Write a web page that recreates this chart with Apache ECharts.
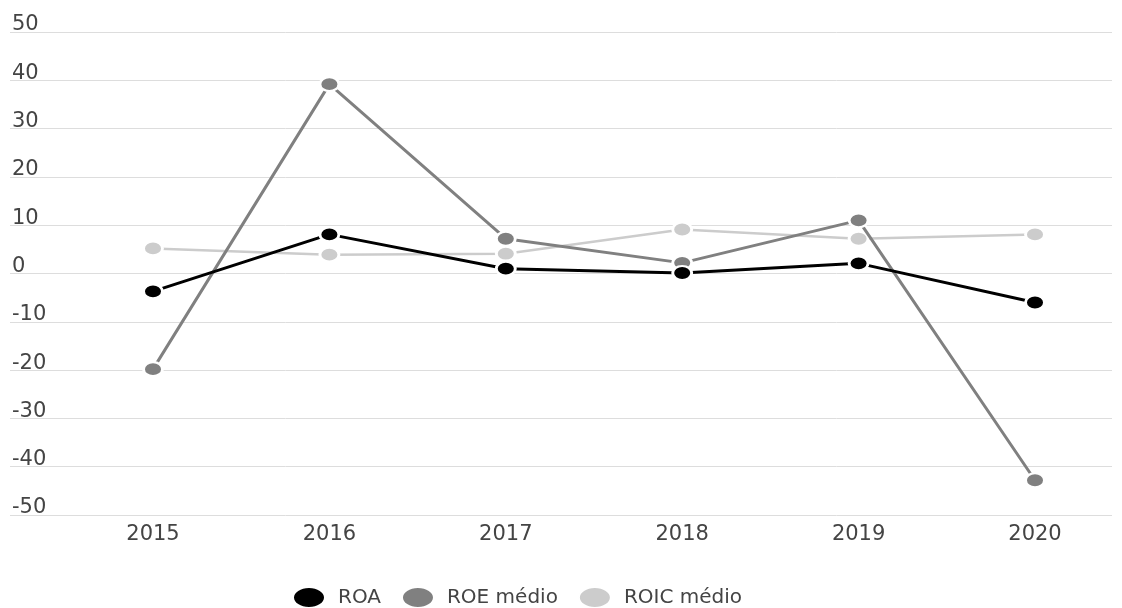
<!DOCTYPE html>
<html>
<head>
<meta charset="utf-8">
<script src="https://cdn.jsdelivr.net/npm/echarts@6/dist/echarts.min.js"></script>
<style>html,body{margin:0;padding:0;background:#fff;}#c{width:1122px;height:608px;}</style>
</head>
<body>
<div id="c"></div>
<script>
const years = ['2015', '2016', '2017', '2018', '2019', '2020'];
const roa = [-3.7, 8.1, 1.0, 0.1, 2.1, -6.0];
const roeMedio = [-19.8, 39.2, 7.2, 2.2, 11.0, -42.8];
const roicMedio = [5.2, 3.9, 4.1, 9.1, 7.2, 8.1];
const seriesNames = ['ROA', 'ROE médio', 'ROIC médio'];
const seriesColors = ['#000000', '#808080', '#cccccc'];
const seriesData = [roa, roeMedio, roicMedio];

const chart = echarts.init(document.getElementById('c'), null, {renderer: 'canvas'});
const ellipse = 'path://M0,10A10,10 0 1,0 20,10A10,10 0 1,0 0,10Z';
const font = 'DejaVu Sans';

chart.setOption({
  animation: false,
  backgroundColor: '#ffffff',
  grid: [
    {left: 10, right: 10, top: 32, bottom: 93},
    {left: 153, right: 87, top: 32, bottom: 93}
  ],
  xAxis: [
    {type: 'category', gridIndex: 0, data: years, show: false},
    {type: 'category', gridIndex: 1, data: years, boundaryGap: false,
     axisLine: {show: false}, axisTick: {show: false}, splitLine: {show: false},
     axisLabel: {color: '#444444', fontFamily: font, fontSize: 21, margin: 9}}
  ],
  yAxis: [
    {type: 'value', gridIndex: 0, min: -50, max: 50, interval: 10,
     axisLine: {show: false}, axisTick: {show: false},
     splitLine: {lineStyle: {color: '#dddddd', width: 1}},
     axisLabel: {inside: true, margin: 2, verticalAlign: 'bottom', lineHeight: 14, padding: [0, 0, 0, 0],
                 color: '#444444', fontFamily: font, fontSize: 21}},
    {type: 'value', gridIndex: 1, min: -50, max: 50, interval: 10, show: false,
     splitLine: {show: false}}
  ],
  legend: {
    left: 287, top: 581,
    itemWidth: 32, itemHeight: 21, itemGap: 20,
    icon: ellipse,
    symbolKeepAspect: false,
    textStyle: {color: '#444444', fontFamily: font, fontSize: 20, padding: [0, 0, 0, 8]},
    data: seriesNames
  },
  series: seriesData.map((d, i) => ({
    name: seriesNames[i],
    type: 'line',
    xAxisIndex: 1, yAxisIndex: 1,
    data: d,
    symbol: 'circle',
    symbolSize: [19, 14],
    symbolKeepAspect: false,
    showAllSymbol: true,
    color: seriesColors[i],
    lineStyle: {color: seriesColors[i], width: i === 2 ? 2.5 : 3},
    itemStyle: {color: seriesColors[i], borderColor: '#ffffff', borderWidth: 2.5},
    z: 10 - i
  }))
});
</script>
</body>
</html>
